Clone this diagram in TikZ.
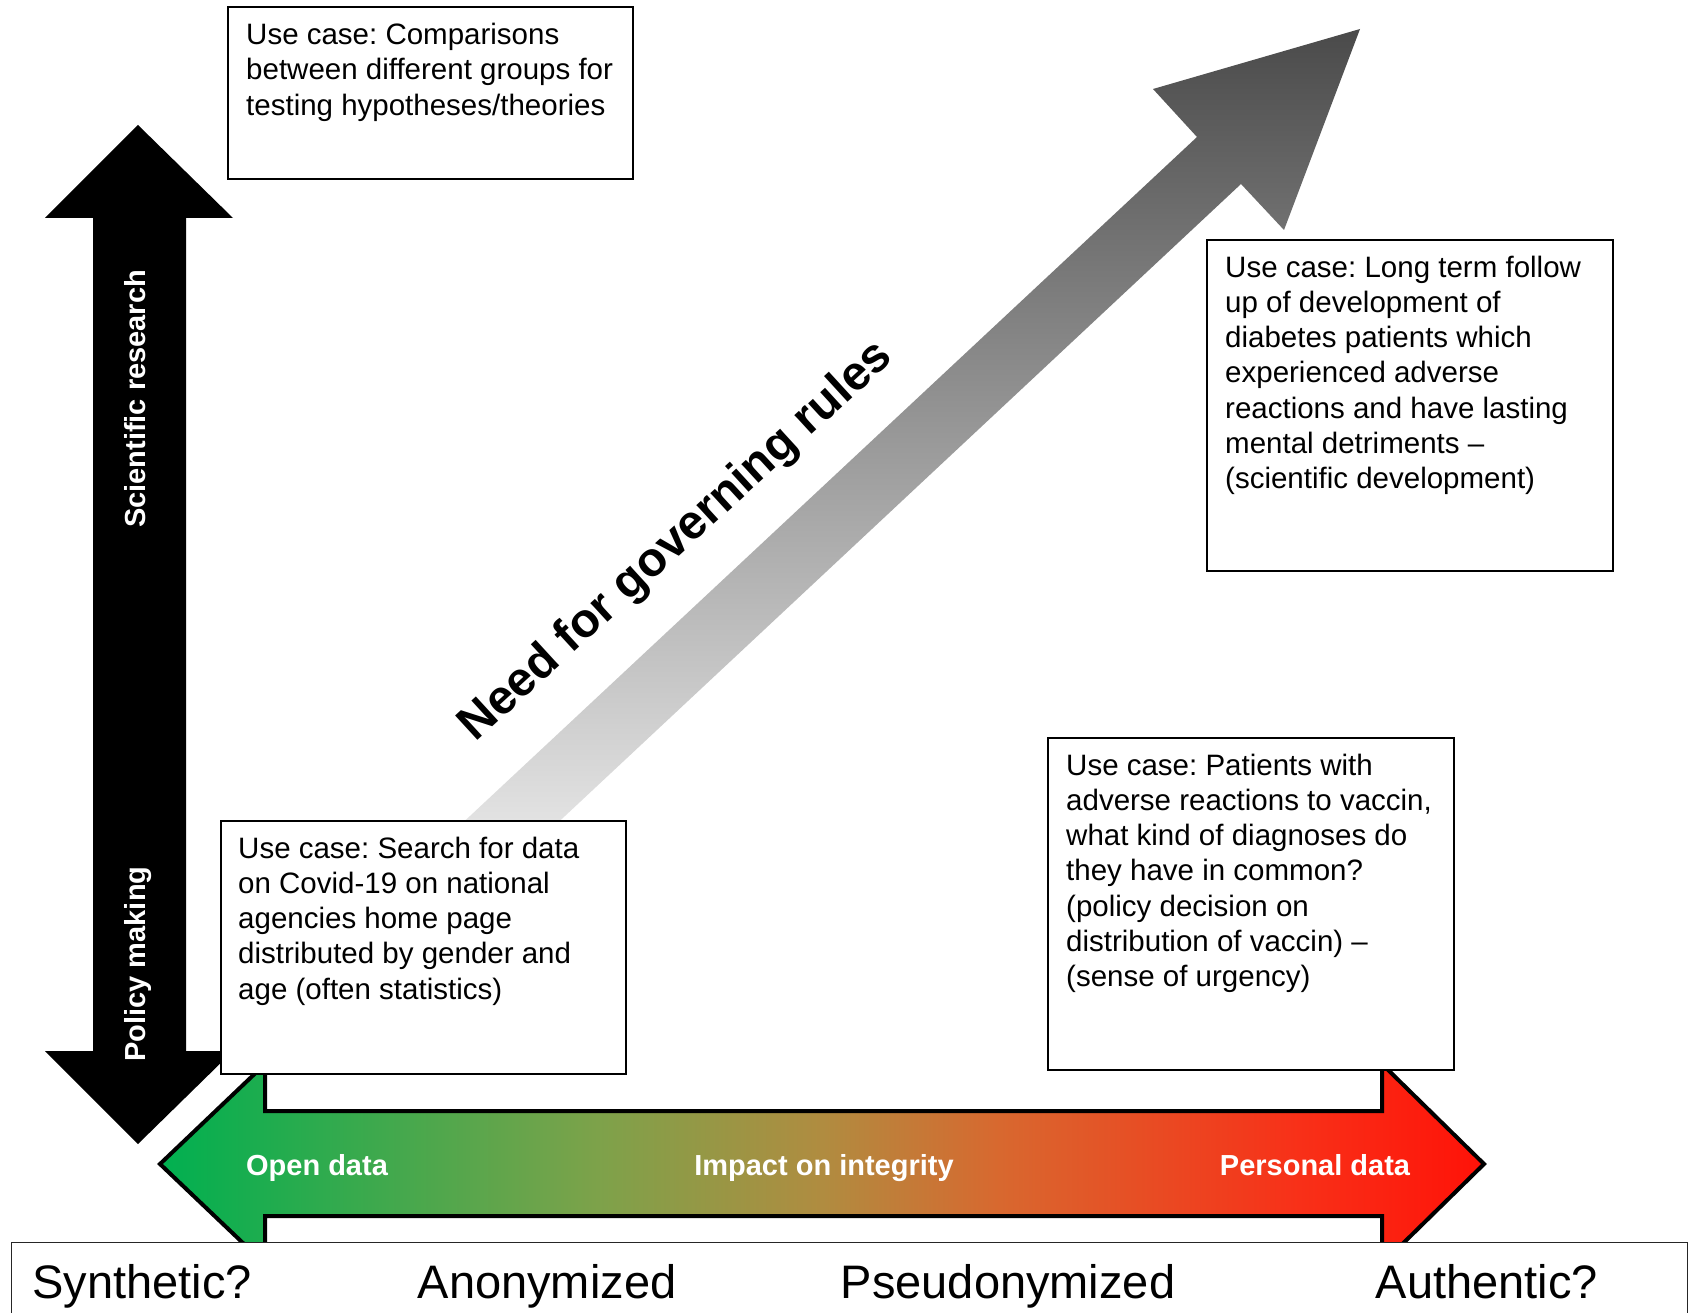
\documentclass[tikz,border=0pt]{standalone}
\usepackage{fontspec}
\setmainfont{Liberation Sans}
\frenchspacing
\definecolor{c0}{HTML}{00B050}
\definecolor{c1}{HTML}{7DA24A}
\definecolor{c2}{HTML}{B08C40}
\definecolor{c3}{HTML}{D8682F}
\definecolor{c4}{HTML}{F83018}
\definecolor{c5}{HTML}{FF1208}
\definecolor{dgtop}{HTML}{4A4A4A}
\definecolor{dgbot}{HTML}{E4E4E4}
\pgfdeclarehorizontalshading{impact}{100bp}{color(0bp)=(c0); color(25bp)=(c0); color(41.5bp)=(c1); color(50bp)=(c2); color(56.7bp)=(c3); color(68bp)=(c4); color(75bp)=(c5); color(100bp)=(c5)}
\begin{document}
\begin{tikzpicture}[x=1pt,y=-1pt,
  usebox/.style={draw=black, line width=1.6, fill=white, inner sep=0, anchor=north west},
  usetext/.style={anchor=north west, inner sep=0, align=left, font=\fontsize{29.5}{35.2}\selectfont},
  arrowlabel/.style={text=white, font=\bfseries\fontsize{29}{34}\selectfont, inner sep=0, anchor=base},
  bigtext/.style={font=\fontsize{47}{56}\selectfont, inner sep=0, anchor=base}]
\clip (0,0) rectangle (1696,1313);
\fill[white] (0,0) rectangle (1696,1313);

% vertical double arrow
\fill[black] (138,125) -- (233,218) -- (186,218) -- (186,1051) -- (233,1051) -- (138,1144)
  -- (45,1051) -- (93,1051) -- (93,218) -- (45,218) -- cycle;
\node[arrowlabel, rotate=90] (sci) at (145,399) {Scientific research};
\node[arrowlabel, rotate=90] (pol) at (145,964) {Policy making};

% diagonal arrow
\shade[top color=dgtop, bottom color=dgbot] (455,830) -- (1197,137) -- (1153,89) -- (1360,29)
  -- (1284,230) -- (1241,184) -- (550,830) -- cycle;
\node[font=\bfseries\fontsize{48}{57}\selectfont, rotate=42.5, anchor=base, inner sep=0] (need) at (685,551) {Need for governing rules};

% horizontal double arrow
\shadedraw[shading=impact, draw=black, line width=4] (160,1164) -- (265,1064) -- (265,1111) -- (1382,1111)
  -- (1382,1064) -- (1484,1164) -- (1382,1264) -- (1382,1216) -- (265,1216) -- (265,1264) -- cycle;
\node[arrowlabel] (open) at (317,1175) {Open data};
\node[arrowlabel] (impact) at (824,1175) {Impact on integrity};
\node[arrowlabel] (personal) at (1315,1175) {Personal data};

% use case boxes
\node[usebox, minimum width=405, minimum height=171.5] (b1) at (227,6.5) {};
\node[usetext] (t1) at (246,14.5) {\rule{0pt}{30pt}Use case: Comparisons\\between different groups for\\testing hypotheses/theories};

\node[usebox, minimum width=406, minimum height=331] (b2) at (1206,239) {};
\node[usetext] (t2) at (1225,247) {\rule{0pt}{30pt}Use case: Long term follow\\up of development of\\diabetes patients which\\experienced adverse\\reactions and have lasting\\mental detriments –\\(scientific development)};

\node[usebox, minimum width=405, minimum height=253] (b3) at (220,820) {};
\node[usetext] (t3) at (238,828) {\rule{0pt}{30pt}Use case: Search for data\\on Covid-19 on national\\agencies home page\\distributed by gender and\\age (often statistics)};

\node[usebox, minimum width=406, minimum height=332] (b4) at (1047,737) {};
\node[usetext] (t4) at (1066,745) {\rule{0pt}{30pt}Use case: Patients with\\adverse reactions to vaccin,\\what kind of diagnoses do\\they have in common?\\(policy decision on\\distribution of vaccin) –\\(sense of urgency)};

% bottom scale box
\node[draw=black!85, line width=1.3, fill=white, inner sep=0, anchor=north west, minimum width=1676, minimum height=120] (scalebox) at (11,1242) {};
\node[bigtext] (syn) at (142,1298) {Synthetic?};
\node[bigtext] (ano) at (547,1298) {Anonymized};
\node[bigtext] (pse) at (1008,1298) {Pseudonymized};
\node[bigtext] (aut) at (1487,1298) {Authentic?};
\end{tikzpicture}
\end{document}
